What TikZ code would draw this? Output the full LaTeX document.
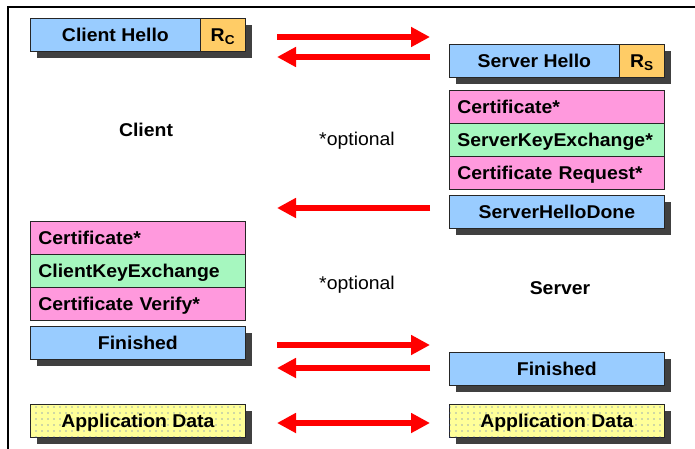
\documentclass[tikz,border=0pt]{standalone}
\usepackage{fontspec}
\setmainfont[FakeStretch=1.05]{Liberation Sans}
\usetikzlibrary{arrows.meta,patterns.meta,shadows}
\definecolor{blueA}{HTML}{99CCFF}
\definecolor{orangeA}{HTML}{FFCC66}
\definecolor{pinkA}{HTML}{FF99DD}
\definecolor{greenA}{HTML}{A6F7BF}
\definecolor{yellowA}{HTML}{FFFF99}
\definecolor{dotA}{HTML}{3355CC}
\definecolor{shadA}{HTML}{404040}
\newcommand\dgfont{\fontsize{18.5}{22}\selectfont}
\tikzset{
  box/.style={draw=black!85, line width=0.8pt, minimum height=33pt, inner sep=0pt,
              text height=16pt, text depth=2.6pt,
              anchor=north west, font=\dgfont\bfseries},
  shad/.style={drop shadow={shadow xshift=7pt, shadow yshift=-7pt, fill=shadA, opacity=1}},
  wide/.style={minimum width=215pt},
  stackbox/.style={box, text width=199pt, inner xsep=8pt, align=left},
  appbox/.style={box, wide, shad, fill=yellowA,
     postaction={pattern={Dots[distance=6pt, radius=0.55pt]}, pattern color=dotA}},
  redarrow/.style={draw=red, line width=5.5pt, arrows={-Triangle[length=19pt, width=19pt]}},
  redboth/.style={draw=red, line width=5.5pt, arrows={Triangle[length=19pt, width=19pt]-Triangle[length=19pt, width=19pt]}},
  lbl/.style={font=\dgfont, inner sep=0pt, text height=16pt, text depth=2.6pt},
  blbl/.style={font=\dgfont\bfseries, inner sep=0pt, text height=16pt, text depth=2.6pt}
}
\begin{document}
\begin{tikzpicture}[x=1pt, y=-1pt]
\useasboundingbox (0,0) rectangle (695,449);
% frame
\draw[line width=2pt] (8,449) -- (8,7) -- (695,7);
% client side
\node[box, shad, fill=blueA, minimum width=170pt] (ch) at (30,18) {Client Hello};
\node[box, shad, fill=orangeA, minimum width=45pt] (rc) at (200,18) {R\textsubscript{C}};
\node[stackbox, fill=pinkA] (ccert) at (30,221) {Certificate*};
\node[stackbox, fill=greenA] (cke) at (30,254) {ClientKeyExchange};
\node[stackbox, fill=pinkA] (cver) at (30,287) {Certificate Verify*};
\node[box, wide, shad, fill=blueA] (cfin) at (30,326) {Finished};
\node[appbox] (capp) at (30,404) {Application Data};
% server side
\node[box, shad, fill=blueA, minimum width=170pt] (sh) at (449,44) {Server Hello};
\node[box, shad, fill=orangeA, minimum width=45pt] (rs) at (619,44) {R\textsubscript{S}};
\node[stackbox, fill=pinkA] (scert) at (449,90) {Certificate*};
\node[stackbox, fill=greenA] (ske) at (449,123) {ServerKeyExchange*};
\node[stackbox, fill=pinkA] (sreq) at (449,156) {Certificate Request*};
\node[box, wide, shad, fill=blueA] (shd) at (449,195) {ServerHelloDone};
\node[box, wide, shad, fill=blueA] (sfin) at (449,352) {Finished};
\node[appbox] (sapp) at (449,404) {Application Data};
% labels
\node[blbl] (client) at (146,130) {Client};
\node[blbl] (server) at (560,288) {Server};
\node[lbl] (opt1) at (357,139) {*optional};
\node[lbl] (opt2) at (357,283) {*optional};
% arrow end points
\coordinate (a1l) at (277,37);  \coordinate (a1r) at (430,37);
\coordinate (a2l) at (277,57);  \coordinate (a2r) at (430,57);
\coordinate (a3l) at (277,208); \coordinate (a3r) at (430,208);
\coordinate (a4l) at (277,345); \coordinate (a4r) at (430,345);
\coordinate (a5l) at (277,368); \coordinate (a5r) at (430,368);
\coordinate (a6l) at (277,423); \coordinate (a6r) at (430,423);
\draw[redarrow] (a1l) -- (a1r);
\draw[redarrow] (a2r) -- (a2l);
\draw[redarrow] (a3r) -- (a3l);
\draw[redarrow] (a4l) -- (a4r);
\draw[redarrow] (a5r) -- (a5l);
\draw[redboth] (a6l) -- (a6r);
\end{tikzpicture}
\end{document}
